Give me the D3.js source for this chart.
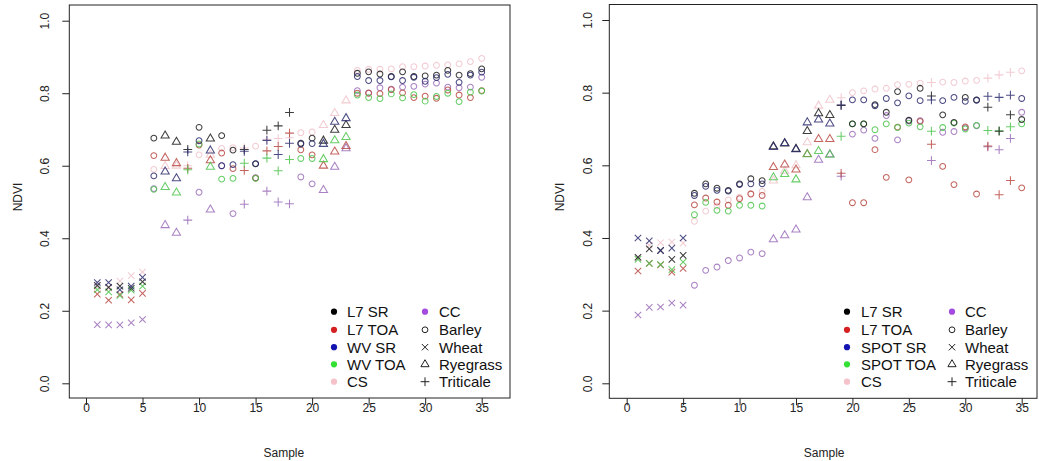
<!DOCTYPE html>
<html>
<head>
<meta charset="utf-8">
<script src="https://cdn.jsdelivr.net/npm/d3@7"></script>
<style>
  html, body { margin: 0; padding: 0; background: #fff; }
  svg { display: block; font-family: "Liberation Sans", Arial, sans-serif; }
</style>
</head>
<body>
<svg id="chart" width="1039" height="461"></svg>
<script>
// Sample numbers along the x axis
const samples = [1,2,3,4,5,6,7,8,9,10,11,12,13,14,15,16,17,18,19,20,21,22,23,24,25,26,27,28,29,30,31,32,33,34,35];
const xTicks = [0,5,10,15,20,25,30,35];
const yTicks = [0.0,0.2,0.4,0.6,0.8,1.0];

// Crop type of each sample (B = Barley, W = Wheat, R = Ryegrass, T = Triticale)
const cropLeft  = ["W","W","W","W","W","B","R","R","T","B","R","B","B","T","B","T","T","T","B","B","R","R","R","B","B","B","B","B","B","B","B","B","B","B","B"];
const cropRight = ["W","W","W","W","W","B","B","B","B","B","B","B","R","R","R","R","R","R","T","B","B","B","B","B","B","B","T","B","B","B","B","T","T","T","B"];

// Left panel: Landsat 7 vs WorldView NDVI
const leftL7SR  = [0.270,0.265,0.268,0.262,0.280,0.676,0.683,0.666,0.645,0.706,0.675,0.683,0.643,0.645,0.605,0.698,0.710,0.747,0.662,0.676,0.669,0.699,0.712,0.855,0.859,0.853,0.846,0.859,0.846,0.848,0.850,0.863,0.850,0.854,0.867];
const leftL7TOA = [0.246,0.229,0.245,0.230,0.248,0.628,0.622,0.607,0.593,0.657,0.615,0.635,0.592,0.587,0.566,0.641,0.653,0.690,0.644,0.630,0.600,0.639,0.654,0.800,0.800,0.799,0.810,0.801,0.788,0.792,0.786,0.809,0.795,0.788,0.807];
const leftWVSR  = [0.278,0.278,0.258,0.268,0.292,0.572,0.584,0.565,0.638,0.669,0.642,0.600,0.603,0.640,0.606,0.670,0.631,0.662,0.660,0.661,0.660,0.721,0.731,0.846,0.835,0.835,0.845,0.835,0.844,0.833,0.843,0.852,0.830,0.850,0.858];
const leftWVTOA = [0.258,0.252,0.242,0.257,0.268,0.535,0.541,0.526,0.589,0.660,0.597,0.563,0.565,0.607,0.565,0.621,0.586,0.617,0.620,0.620,0.618,0.670,0.679,0.795,0.788,0.785,0.798,0.787,0.796,0.778,0.791,0.800,0.777,0.803,0.806];
const leftCS    = [0.266,0.262,0.282,0.297,0.307,0.590,0.599,0.600,0.600,0.630,0.630,0.648,0.650,0.649,0.654,0.673,0.675,0.677,0.691,0.693,0.712,0.745,0.780,0.863,0.866,0.866,0.867,0.873,0.873,0.875,0.877,0.878,0.881,0.887,0.896];
const leftCC    = [0.162,0.161,0.161,0.167,0.176,0.537,0.436,0.415,0.450,0.527,0.479,0.600,0.468,0.494,0.567,0.530,0.500,0.495,0.569,0.550,0.533,0.597,0.648,0.807,0.801,0.815,0.811,0.817,0.819,0.825,0.828,0.817,0.815,0.817,0.844];

// Right panel: Landsat 7 vs SPOT NDVI
const rightL7SR    = [0.347,0.370,0.366,0.341,0.352,0.523,0.549,0.537,0.531,0.549,0.563,0.558,0.652,0.660,0.645,0.694,0.743,0.738,0.765,0.714,0.714,0.767,0.746,0.803,0.724,0.812,0.791,0.739,0.718,0.787,0.780,0.760,0.694,0.739,0.726];
const rightL7TOA   = [0.309,0.330,0.326,0.306,0.316,0.491,0.510,0.499,0.490,0.508,0.521,0.517,0.595,0.602,0.588,0.631,0.672,0.672,0.578,0.497,0.497,0.643,0.567,0.705,0.560,0.721,0.658,0.597,0.547,0.706,0.521,0.653,0.519,0.558,0.538];
const rightSPOTSR  = [0.400,0.392,0.365,0.372,0.400,0.517,0.542,0.531,0.529,0.547,0.549,0.549,0.650,0.661,0.644,0.718,0.726,0.715,0.766,0.780,0.780,0.764,0.784,0.772,0.791,0.778,0.780,0.778,0.787,0.776,0.779,0.790,0.787,0.793,0.784];
const rightSPOTTOA = [0.341,0.330,0.327,0.313,0.334,0.464,0.498,0.476,0.474,0.490,0.490,0.488,0.567,0.576,0.561,0.630,0.639,0.629,0.680,0.714,0.714,0.698,0.714,0.704,0.716,0.706,0.694,0.704,0.716,0.700,0.710,0.696,0.695,0.706,0.714];
const rightCS      = [0.345,0.380,0.387,0.389,0.386,0.446,0.474,0.488,0.505,0.512,0.522,0.528,0.558,0.585,0.600,0.663,0.764,0.780,0.786,0.800,0.805,0.810,0.812,0.822,0.823,0.826,0.828,0.829,0.828,0.832,0.834,0.840,0.849,0.856,0.860];
const rightCC      = [0.188,0.209,0.210,0.221,0.215,0.270,0.311,0.320,0.338,0.345,0.361,0.357,0.396,0.407,0.423,0.512,0.615,0.630,0.570,0.686,0.697,0.674,0.737,0.670,0.722,0.723,0.613,0.691,0.693,0.703,0.709,0.651,0.643,0.674,0.746];

const leftMethods  = ["L7 SR","L7 TOA","WV SR","WV TOA","CS"];
const rightMethods = ["L7 SR","L7 TOA","SPOT SR","SPOT TOA","CS"];
const cropNames = ["CC","Barley","Wheat","Ryegrass","Triticale"];

// Mark colours (as plotted) and legend bullet colours
const markColors   = { l7sr: "#1c1c1c", l7toa: "#b84a44", sr: "#2d2d6e", toa: "#4cc44c", cs: "#f0c3ca", cc: "#9a6cb8" };
const bulletColors = ["#000000", "#d42020", "#1414b0", "#33e033", "#f4c2c8", "#a34be0"];

const svg = d3.select("#chart");

// symbol paths drawn like R's pch 1, 4, 2, 3
function symbolPath(code) {
  switch (code) {
    case "W": return "M-3.2,-3.2L3.2,3.2M-3.2,3.2L3.2,-3.2";
    case "R": return "M0,-4.6L4.1,2.4L-4.1,2.4Z";
    case "T": return "M-4.4,0L4.4,0M0,-4.4L0,4.4";
    default:  return "M2.9,0A2.9,2.9 0 1,1 -2.9,0A2.9,2.9 0 1,1 2.9,0Z";
  }
}

function drawPanel(p) {
  const g = svg.append("g");
  const x = d3.scaleLinear().domain([0, 35]).range([p.x0, p.x35]);
  const y = d3.scaleLinear().domain([0, 1]).range([p.y0, p.y1]);

  // frame
  g.append("rect")
    .attr("x", p.boxL).attr("y", p.boxT)
    .attr("width", p.boxR - p.boxL).attr("height", p.boxB - p.boxT)
    .attr("fill", "none").attr("stroke", "#222").attr("stroke-width", 1);

  // axes
  const xAxis = d3.axisBottom(x).tickValues(xTicks).tickSize(7).tickPadding(6).tickFormat(d3.format("d"));
  const gx = g.append("g").attr("transform", `translate(0,${p.boxB})`).call(xAxis);
  gx.select(".domain").remove();
  gx.selectAll("line").attr("stroke", "#222");
  gx.selectAll("text").attr("font-size", 12).attr("fill", "#222").attr("dy", "0.1em")
    .attr("font-family", "Liberation Sans, Arial, sans-serif");

  const yAxis = d3.axisLeft(y).tickValues(yTicks).tickSize(7).tickFormat(d3.format(".1f"));
  const gy = g.append("g").attr("transform", `translate(${p.boxL},0)`).call(yAxis);
  gy.select(".domain").remove();
  gy.selectAll("line").attr("stroke", "#222");
  gy.selectAll("text")
    .attr("font-size", 12).attr("fill", "#222")
    .attr("font-family", "Liberation Sans, Arial, sans-serif")
    .attr("x", null).attr("dy", null)
    .attr("text-anchor", "middle")
    .attr("transform", `translate(${p.yLabX - p.boxL},0) rotate(-90)`);

  // axis titles
  g.append("text").attr("x", (p.x0 + p.x35) / 2).attr("y", 456.5)
    .attr("text-anchor", "middle").attr("font-size", 12).attr("fill", "#222").text("Sample");
  g.append("text").attr("transform", `translate(${p.titleX},${197}) rotate(-90)`)
    .attr("text-anchor", "middle").attr("font-size", 12).attr("fill", "#222").text("NDVI");

  // points
  const series = [
    { vals: p.cs,   col: markColors.cs },
    { vals: p.cc,   col: markColors.cc },
    { vals: p.l7toa, col: markColors.l7toa },
    { vals: p.toa,  col: markColors.toa },
    { vals: p.l7sr, col: markColors.l7sr },
    { vals: p.sr,   col: markColors.sr }
  ];
  series.forEach(s => {
    g.append("g").selectAll("path")
      .data(samples)
      .join("path")
      .attr("d", (d, i) => symbolPath(p.crop[i]))
      .attr("transform", (d, i) => `translate(${x(d)},${y(s.vals[i])})`)
      .attr("fill", "none")
      .attr("stroke", s.col)
      .attr("stroke-width", 1.05)
      .attr("stroke-opacity", 0.85);
  });

  // legend
  const rows = [311.7, 329.8, 347.2, 364.3, 381.7];
  const lg = g.append("g");
  p.methods.forEach((m, i) => {
    lg.append("circle").attr("cx", p.legX1).attr("cy", rows[i]).attr("r", 3.1).attr("fill", bulletColors[i]);
    lg.append("text").attr("x", p.legT1).attr("y", rows[i] + 5.4).attr("font-size", 15).attr("fill", "#111").text(m);
  });
  const col2 = ["CC", "B", "W", "R", "T"];
  col2.forEach((c, i) => {
    if (c === "CC") {
      lg.append("circle").attr("cx", p.legX2).attr("cy", rows[i]).attr("r", 3.1).attr("fill", bulletColors[5]);
    } else {
      lg.append("path").attr("d", symbolPath(c))
        .attr("transform", `translate(${p.legX2},${rows[i]})`)
        .attr("fill", "none").attr("stroke", "#222").attr("stroke-width", 1);
    }
    lg.append("text").attr("x", p.legT2).attr("y", rows[i] + 5.4).attr("font-size", 15).attr("fill", "#111").text(cropNames[i]);
  });
}

drawPanel({
  x0: 86, x35: 481.7, y0: 383.3, y1: 20.7,
  boxL: 69.3, boxR: 510, boxT: 5, boxB: 398,
  yLabX: 49.3, titleX: 21.5,
  crop: cropLeft, methods: leftMethods,
  l7sr: leftL7SR, l7toa: leftL7TOA, sr: leftWVSR, toa: leftWVTOA, cs: leftCS, cc: leftCC,
  legX1: 334, legT1: 347, legX2: 425, legT2: 439
});

drawPanel({
  x0: 626.7, x35: 1021.7, y0: 383.3, y1: 20,
  boxL: 609.3, boxR: 1037, boxT: 4.5, boxB: 398.3,
  yLabX: 591.5, titleX: 564,
  crop: cropRight, methods: rightMethods,
  l7sr: rightL7SR, l7toa: rightL7TOA, sr: rightSPOTSR, toa: rightSPOTTOA, cs: rightCS, cc: rightCC,
  legX1: 847, legT1: 861, legX2: 952, legT2: 965
});
</script>
</body>
</html>
